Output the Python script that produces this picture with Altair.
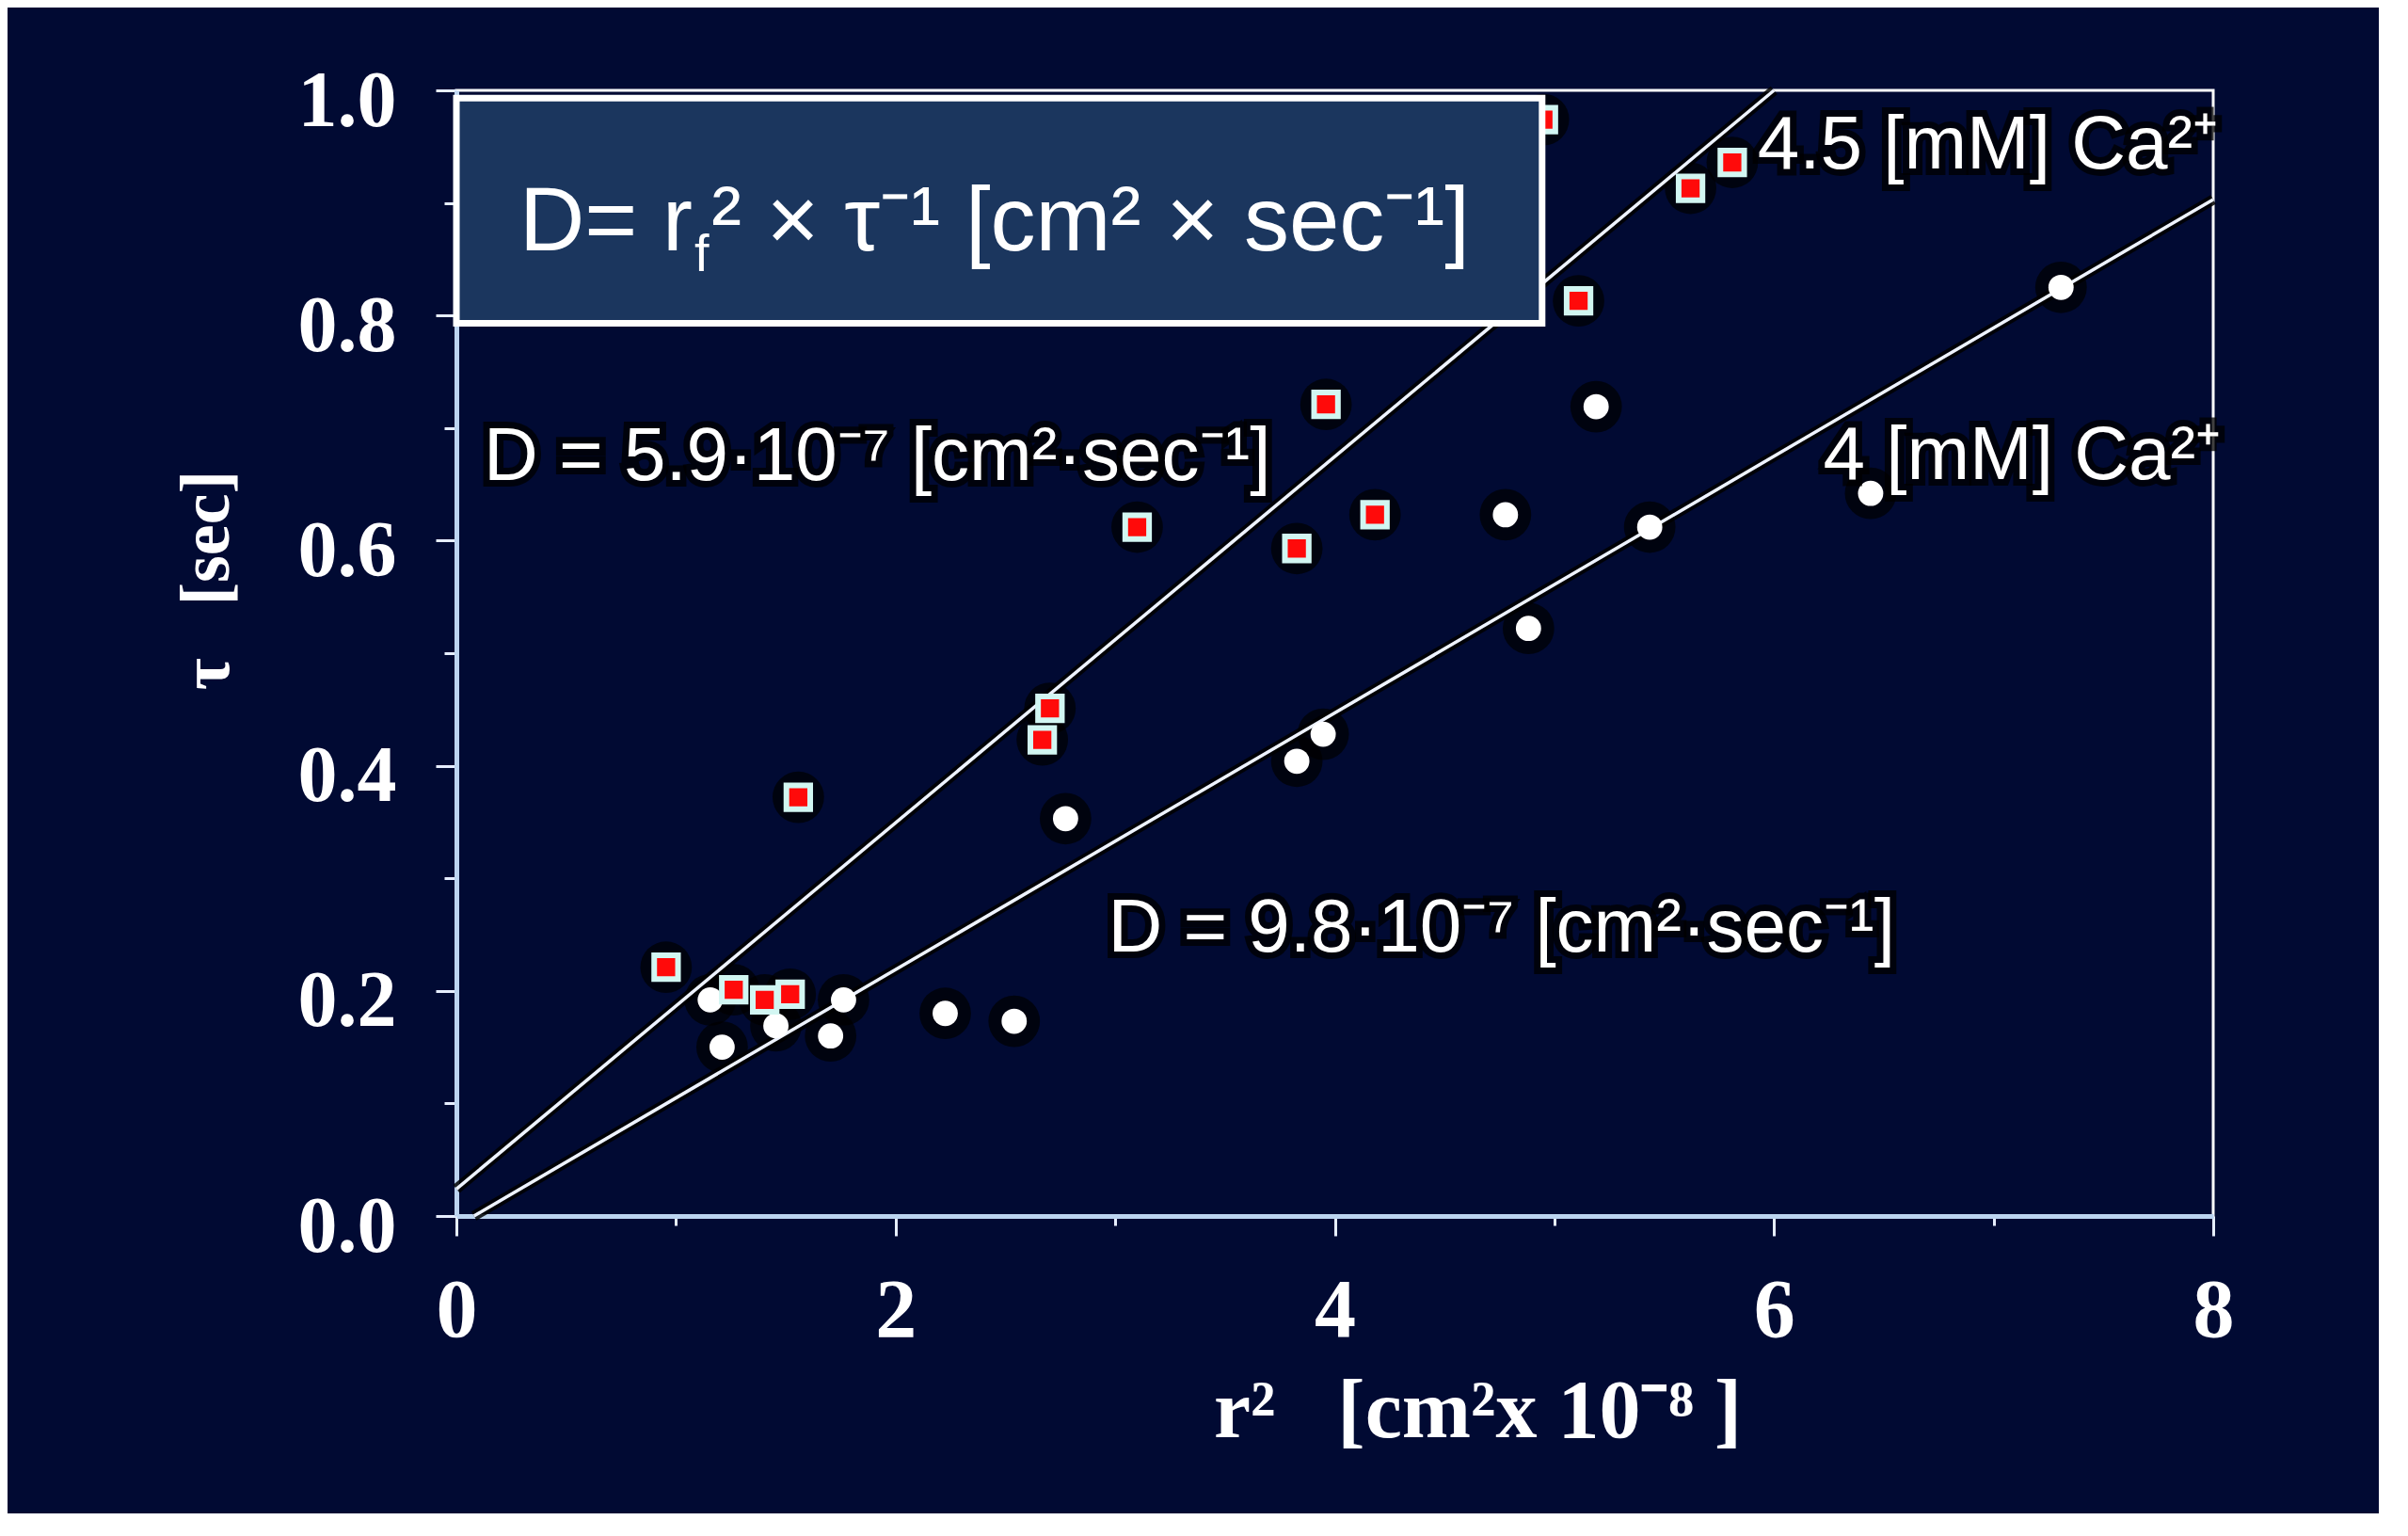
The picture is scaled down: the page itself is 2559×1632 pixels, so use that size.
import altair as alt
import pandas as pd

# ---------------- data ----------------
# 4.5 mM Ca2+ (red squares)
sq_x = [0.955, 1.263, 1.404, 1.52, 1.557, 2.668, 2.703, 3.10, 3.827, 3.96, 4.183, 4.95, 5.11, 5.62, 5.81]
sq_y = [0.221, 0.201, 0.192, 0.197, 0.372, 0.423, 0.451, 0.612, 0.593, 0.721, 0.623, 0.974, 0.813, 0.913, 0.936]
# 4 mM Ca2+ (white circles)
ci_x = [1.156, 1.21, 1.455, 1.704, 1.763, 2.226, 2.54, 2.774, 3.827, 3.947, 4.777, 4.882, 5.19, 5.434, 6.44, 7.307]
ci_y = [0.192, 0.150, 0.169, 0.160, 0.192, 0.180, 0.173, 0.353, 0.404, 0.428, 0.623, 0.522, 0.719, 0.612, 0.642, 0.825]
# fitted lines
fit45_x = [0.0, 6.0]
fit45_y = [0.024, 1.0]
fit4_x = [0.08, 8.0]
fit4_y = [0.0, 0.903]
# annotations
annot_text = ["D = 5.9\u00b710\u207b\u2077 [cm\u00b2\u00b7sec\u207b\u00b9]",
              "D = 9.8\u00b710\u207b\u2077 [cm\u00b2\u00b7sec\u207b\u00b9]",
              "4.5 [mM] Ca\u00b2\u207a",
              "4 [mM] Ca\u00b2\u207a"]
annot_x = [0.124, 2.967, 5.925, 6.224]
annot_y = [0.674, 0.255, 0.951, 0.675]
# formula box
box_x, box_x2, box_y, box_y2 = [0.0], [4.944], [0.993], [0.793]
formula_a = "D= r"
formula_sub = "f"
formula_b = "\u00b2 \u00d7 \u03c4\u207b\u00b9 [cm\u00b2 \u00d7 sec\u207b\u00b9]"

x_ticks = [0, 1, 2, 3, 4, 5, 6, 7, 8]
y_ticks = [0.0, 0.1, 0.2, 0.3, 0.4, 0.5, 0.6, 0.7, 0.8, 0.9, 1.0]
x_title = "r\u00b2\u00a0\u00a0\u00a0[cm\u00b2x 10\u207b\u2078\u00a0]"
y_title = "\u03c4\u00a0\u00a0\u00a0[sec]"

# ---------------- tables ----------------
df_sq = pd.DataFrame({"x": sq_x, "y": sq_y})
df_ci = pd.DataFrame({"x": ci_x, "y": ci_y})
df_pts = pd.concat([df_ci, df_sq], ignore_index=True)
df_line = pd.DataFrame({
    "x": fit45_x + fit4_x,
    "y": fit45_y + fit4_y,
    "s": ["4.5"] * len(fit45_x) + ["4"] * len(fit4_x),
})
df_annot = pd.DataFrame({"x": annot_x, "y": annot_y, "t": annot_text})
df_box = pd.DataFrame({"x": box_x, "x2": box_x2, "y": box_y, "y2": box_y2})
df_formula = pd.DataFrame({"x": [0.287], "y": [0.858]})

BG = "#010a33"
SERIF = "Liberation Serif"
SANS = "Liberation Sans"

xs = alt.Scale(domain=[0, 8], nice=False, zero=False)
ys = alt.Scale(domain=[0, 1], nice=False, zero=False)

x_axis = alt.Axis(
    values=x_ticks,
    labelExpr="datum.value % 2 == 0 ? datum.label : ''",
    labelFont=SERIF, labelFontWeight="bold", labelFontSize=88, labelColor="white",
    labelPadding=36, labelFlush=False, labelOverlap=False,
    tickColor="#e6eeff", tickWidth=3,
    tickSize={"condition": {"test": "datum.value % 2 == 0", "value": 21}, "value": 10},
    domainColor="#bcd4f0", domainWidth=5, grid=False,
    title=x_title,
    titleFont=SERIF, titleFontWeight="bold", titleFontSize=88, titleColor="white",
    titleX=1085, titleY=234, titleAlign="center", titleBaseline="alphabetic",
)
y_axis = alt.Axis(
    values=y_ticks,
    labelExpr="round(datum.value * 10) % 2 == 0 ? format(datum.value, '.1f') : ''",
    labelFont=SERIF, labelFontWeight="bold", labelFontSize=84, labelColor="white",
    labelPadding=42, labelOffset=12, labelOverlap=False,
    tickColor="#e6eeff", tickWidth=3,
    tickSize={"condition": {"test": "round(datum.value * 10) % 2 == 0", "value": 22}, "value": 13},
    domainColor="#bcd4f0", domainWidth=5, grid=False,
    title=y_title,
    titleFont=SERIF, titleFontWeight="bold", titleFontSize=74, titleColor="white",
    titleX=-265, titleY=520, titleAlign="center", titleBaseline="middle",
)

X = alt.X("x:Q", scale=xs, axis=x_axis)
Y = alt.Y("y:Q", scale=ys, axis=y_axis)

line_halo = alt.Chart(df_line).mark_line(color="black", strokeWidth=11, opacity=0.85).encode(
    x=X, y=Y, detail="s:N")
pt_halo = alt.Chart(df_pts).mark_circle(color="black", size=3000, opacity=0.7).encode(x=X, y=Y)
lines = alt.Chart(df_line).mark_line(color="#eef3ff", strokeWidth=3.5).encode(
    x=X, y=Y, detail="s:N")
circles = alt.Chart(df_ci).mark_circle(color="white", size=720, opacity=1).encode(x=X, y=Y)
squares = alt.Chart(df_sq).mark_square(
    color="#ff0a0a", size=640, opacity=1, stroke="#d2f6f2", strokeWidth=6
).encode(x=X, y=Y)
box = alt.Chart(df_box).mark_rect(fill="#1b365e", stroke="white", strokeWidth=7).encode(
    x=X, x2="x2:Q", y=Y, y2="y2:Q")
f_a = alt.Chart(df_formula).mark_text(
    text=formula_a, font=SANS, fontSize=96, color="white", align="left", baseline="alphabetic"
).encode(x=X, y=Y)
f_sub = alt.Chart(df_formula).mark_text(
    text=formula_sub, font=SANS, fontSize=56, color="white", align="left", baseline="alphabetic",
    dx=186, dy=22
).encode(x=X, y=Y)
f_b = alt.Chart(df_formula).mark_text(
    text=formula_b, font=SANS, fontSize=96, color="white", align="left", baseline="alphabetic",
    dx=204
).encode(x=X, y=Y)
annot_halo = alt.Chart(df_annot).mark_text(
    font=SANS, fontSize=80, color="black", stroke="black", strokeWidth=14, strokeOpacity=0.75,
    align="left", baseline="middle"
).encode(x=X, y=Y, text="t:N")
annot = alt.Chart(df_annot).mark_text(
    font=SANS, fontSize=80, color="white", align="left", baseline="middle"
).encode(x=X, y=Y, text="t:N")

chart = alt.layer(
    line_halo, pt_halo, lines, circles, squares, box, f_a, f_sub, f_b, annot_halo, annot
).properties(
    width=1867, height=1196,
    autosize=alt.AutoSizeParams(type="none"),
    padding={"left": 477, "top": 88, "right": 176, "bottom": 316},
    background=BG,
).configure_view(stroke="white", strokeWidth=3)

chart.save("out.html", embed_options={"renderer": "svg", "actions": False})
